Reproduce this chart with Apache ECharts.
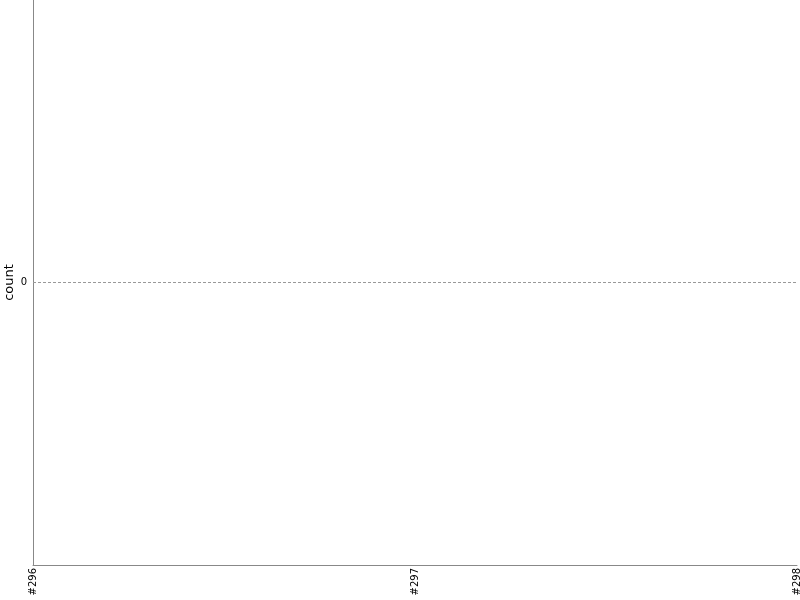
<!DOCTYPE html>
<html>
<head>
<meta charset="utf-8">
<script src="https://cdn.jsdelivr.net/npm/echarts@6/dist/echarts.min.js"></script>
<style>html,body{margin:0;padding:0;background:#fff}#main{width:800px;height:600px}</style>
</head>
<body>
<div id="main"></div>
<script>
var myChart = echarts.init(document.getElementById('main'));

var categories = ['#296', '#297', '#298'];
var counts = [null, null, null];   // nothing plotted in the picture
var zeroLine = [0];

var option = {
    animation: false,
    textStyle: {fontFamily: 'DejaVu Sans'},
    grid: {left: 33, right: 3, top: 0, bottom: 35, containLabel: false, outerBoundsMode: 'none'},
    xAxis: {
        type: 'category',
        data: categories,
        boundaryGap: false,
        axisLine: {onZero: false, lineStyle: {color: '#888'}},
        axisTick: {show: false},
        axisLabel: {rotate: 90, fontSize: 10, color: '#000', margin: 3, interval: 0}
    },
    yAxis: {
        type: 'value',
        min: -1,
        max: 1,
        interval: 1,
        name: 'count',
        nameLocation: 'middle',
        nameGap: 17,
        nameMoveOverlap: false,
        nameTextStyle: {fontSize: 13, color: '#000'},
        axisLine: {show: true, lineStyle: {color: '#888'}},
        axisTick: {show: false},
        splitLine: {show: false},
        axisLabel: {
            fontSize: 10, color: '#000', margin: 6,
            formatter: function (v) { return v === 0 ? '0' : ''; }
        }
    },
    series: [{
        name: 'count',
        type: 'line',
        data: counts,
        symbol: 'none',
        markLine: {
            silent: true,
            symbol: 'none',
            label: {show: false},
            lineStyle: {color: '#999', type: [3, 2], width: 1},
            data: zeroLine.map(function (v) { return {yAxis: v}; })
        }
    }]
};

myChart.setOption(option);
</script>
</body>
</html>
